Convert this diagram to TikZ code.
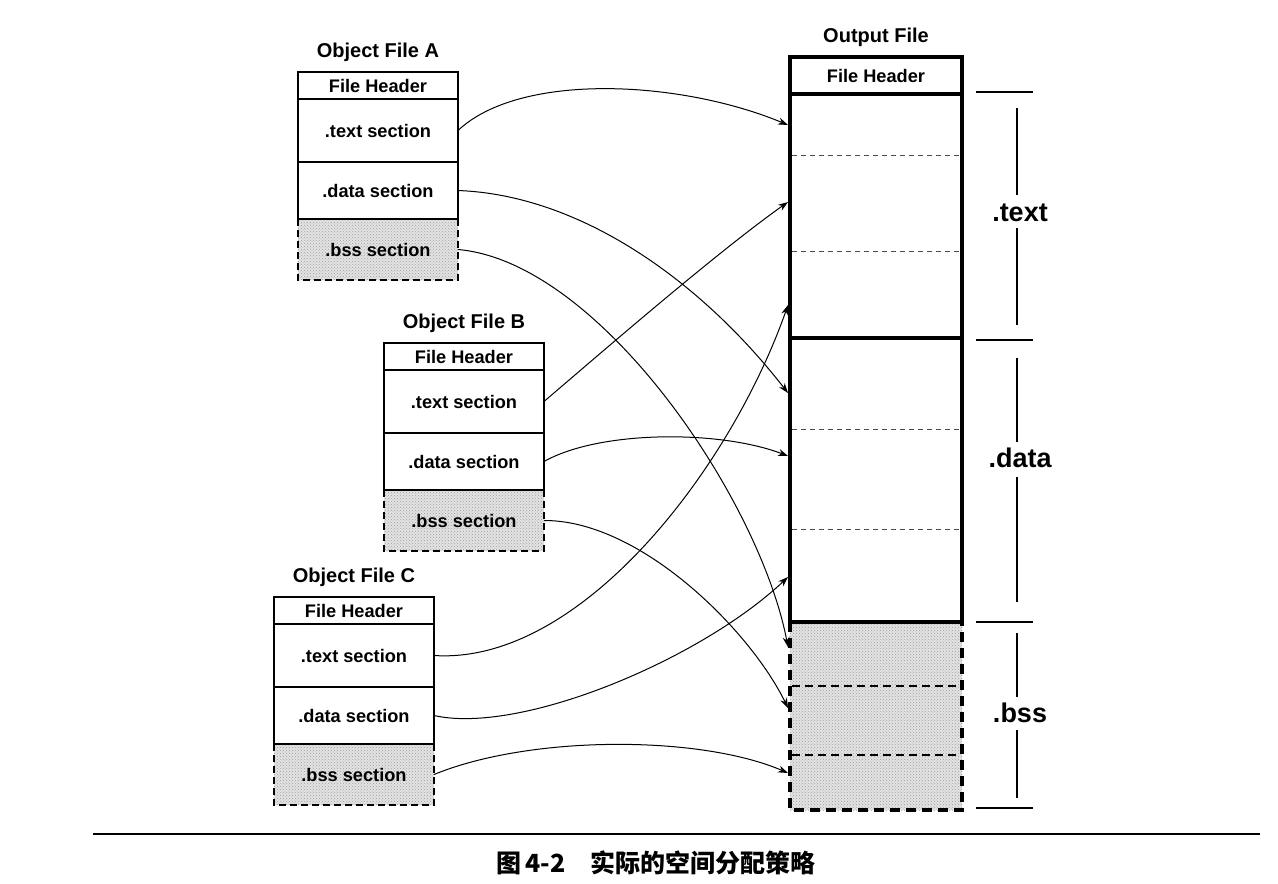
\documentclass[tikz,border=0pt]{standalone}
\usepackage{fontspec}
\setmainfont{Liberation Sans}
\newfontfamily\cjkfont{Noto Sans CJK SC}
\usetikzlibrary{arrows.meta,patterns}
\tikzset{
  secbox/.style={draw, line width=1.8pt, minimum width=160pt, inner sep=0pt, outer sep=0pt,
    anchor=north west, font=\fontsize{18.2}{20}\selectfont\bfseries},
  bssbox/.style={minimum width=160pt, inner sep=0pt, outer sep=0pt, anchor=north west,
    preaction={fill=gray!22}, pattern=crosshatch dots, pattern color=gray!75,
    font=\fontsize{18.2}{20}\selectfont\bfseries},
  bssline/.style={line width=2.4pt, dash pattern=on 7pt off 4pt},
  titletext/.style={anchor=base, font=\fontsize{20}{22}\selectfont\bfseries},
  outbox/.style={draw, line width=3.4pt, minimum width=172pt, inner sep=0pt, outer sep=0pt,
    anchor=north west, font=\fontsize{18.2}{20}\selectfont\bfseries},
  outbss/.style={minimum width=172pt, inner sep=0pt, outer sep=0pt, anchor=north west,
    preaction={fill=gray!22}, pattern=crosshatch dots, pattern color=gray!75},
  thindash/.style={line width=1pt, draw=black!70, dash pattern=on 5pt off 4pt},
  bssdash/.style={line width=2.6pt, dash pattern=on 8pt off 5pt},
  conn/.style={line width=1pt, -{Stealth[length=10pt,width=7pt]}},
  biglab/.style={font=\fontsize{27}{30}\selectfont\bfseries},
  tick/.style={line width=2pt},
  vline/.style={line width=1.2pt},
}
\newcommand\objfile[4]{%
  \node[secbox, minimum height=27pt] (#1h) at (#2,#3) {File Header};
  \node[secbox, minimum height=63pt] (#1t) at (#1h.south west) {.text section};
  \node[secbox, minimum height=57pt] (#1d) at (#1t.south west) {.data section};
  \node[bssbox, minimum height=61pt] (#1b) at (#1d.south west) {.bss section};
  \draw[bssline] (#1b.north west) -- (#1b.south west) -- (#1b.south east) -- (#1b.north east);
  \draw[line width=1.8pt] (#1d.south west) -- (#1d.south east);
  \node[titletext] (#1title) at ([yshift=15pt]#1h.north) {#4};
}
\begin{document}
\begin{tikzpicture}[x=1pt,y=-1pt]
\useasboundingbox (0,0) rectangle (1278,884);

% object files
\objfile{A}{298}{72}{Object File A}
\objfile{B}{384}{343}{Object File B}
\objfile{C}{274}{597}{Object File C}

% output file
\node[outbox, minimum height=37pt] (Oh) at (790,57) {File Header};
\node[outbox, minimum height=244pt] (Ot) at (Oh.south west) {};
\node[outbox, minimum height=284pt] (Od) at (Ot.south west) {};
\node[outbss, minimum height=188pt] (Ob) at (Od.south west) {};
\draw[line width=3.4pt, dash pattern=on 10pt off 6pt] (Ob.north west) -- (Ob.south west) -- (Ob.south east) -- (Ob.north east);
\draw[line width=3.4pt] (Od.south west) -- (Od.south east);
\node[titletext] (Otitle) at ([yshift=15pt]Oh.north) {Output File};

\draw[thindash] (792,155) -- (960,155);
\draw[thindash] (792,251) -- (960,251);
\draw[thindash] (792,429) -- (960,429);
\draw[thindash] (792,529) -- (960,529);
\draw[bssdash] (792,686) -- (960,686);
\draw[bssdash] (792,755) -- (960,755);

% arrival points
\coordinate (t1) at (788,125);
\coordinate (t2) at (788,202);
\coordinate (t3) at (788,305);
\coordinate (d1) at (788,393);
\coordinate (d2) at (788,456);
\coordinate (d3) at (788,577);
\coordinate (b1) at (788,647);
\coordinate (b2) at (788,708);
\coordinate (b3) at (788,773);

% connectors
\draw[conn] (At.east) .. controls (520,72) and (680,80) .. (t1);
\draw[conn] (Ad.east) .. controls (580,195) and (700,280) .. (d1);
\draw[conn] (Ab.east) .. controls (600,262) and (760,500) .. (b1);
\draw[conn] (Bt.east) .. controls (610,345) and (720,250) .. (t2);
\draw[conn] (Bd.east) .. controls (600,430) and (720,430) .. (d2);
\draw[conn] (Bb.east) .. controls (640,520) and (750,630) .. (b2);
\draw[conn] (Ct.east) .. controls (580,665) and (730,470) .. (t3);
\draw[conn] (Cd.east) .. controls (520,735) and (700,660) .. (d3);
\draw[conn] (Cb.east) .. controls (530,735) and (700,735) .. (b3);

% right-hand brackets
\draw[tick] (976,92) -- (1033,92);
\draw[tick] (976,340) -- (1033,340);
\draw[tick] (976,622) -- (1033,622);
\draw[tick] (976,808) -- (1033,808);
\node[biglab] (Lt) at (1020,213) {.text};
\node[biglab] (Ld) at (1020,458) {.data};
\node[biglab] (Lb) at (1020,713) {.bss};
\draw[vline] (1017,108) -- (1017,195);
\draw[vline] (1017,228) -- (1017,325);
\draw[vline] (1017,358) -- (1017,442);
\draw[vline] (1017,477) -- (1017,602);
\draw[vline] (1017,633) -- (1017,697);
\draw[vline] (1017,730) -- (1017,798);

% caption
\draw[line width=1.5pt] (93,834) -- (1260,834);
\node[font=\cjkfont\bfseries\fontsize{25}{30}\selectfont, anchor=west] (cap) at (493,863) {图\,4-2\quad 实际的空间分配策略};
\end{tikzpicture}
\end{document}
